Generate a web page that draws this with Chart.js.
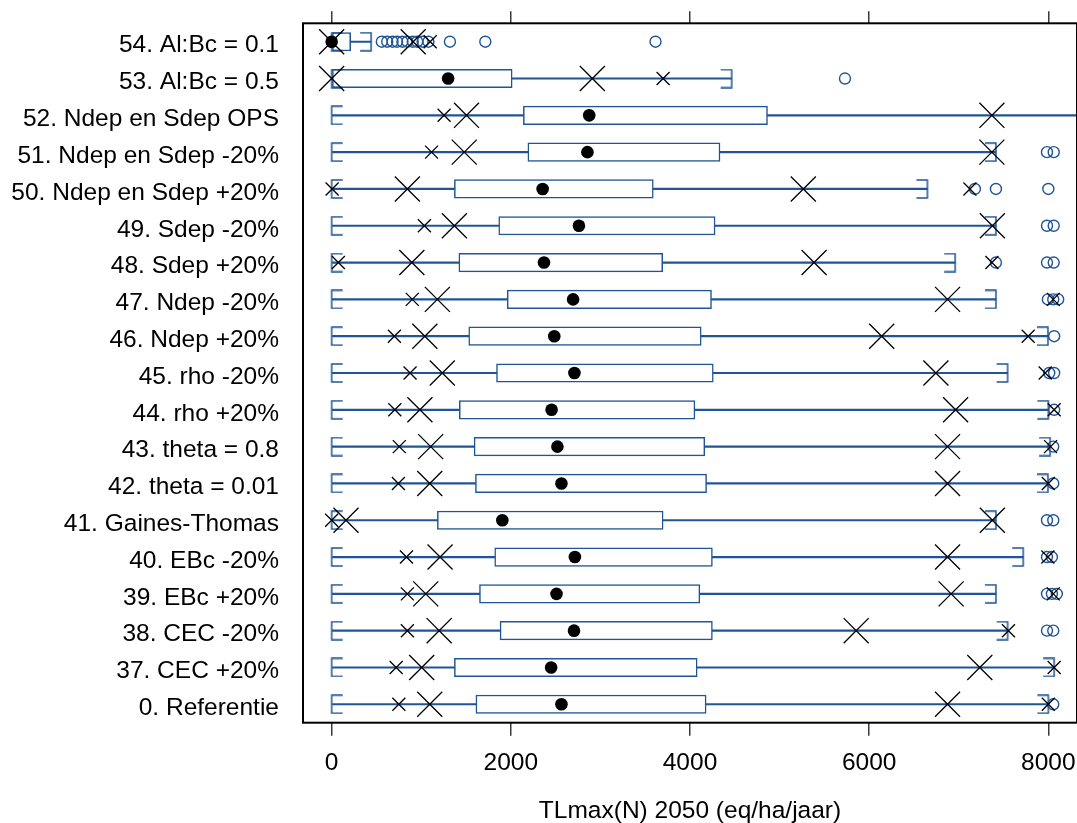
<!DOCTYPE html>
<html lang="nl">
<head>
<meta charset="UTF-8">
<title>TLmax(N) 2050</title>
<script src="https://cdn.jsdelivr.net/npm/chart.js"></script>
<style>
  html, body { margin: 0; padding: 0; background: #fff; overflow: hidden; }
  #wrap { width: 1077px; height: 823px; }
  canvas { display: block; }
</style>
</head>
<body>
<div id="wrap"><canvas id="grafiek"></canvas></div>
<script>
// Scenario's, van boven naar onder
const categories = ['54. Al:Bc = 0.1', '53. Al:Bc = 0.5', '52. Ndep en Sdep OPS', '51. Ndep en Sdep -20%',
    '50. Ndep en Sdep +20%', '49. Sdep -20%', '48. Sdep +20%', '47. Ndep -20%', '46. Ndep +20%',
    '45. rho -20%', '44. rho +20%', '43. theta = 0.8', '42. theta = 0.01', '41. Gaines-Thomas',
    '40. EBc -20%', '39. EBc +20%', '38. CEC -20%', '37. CEC +20%', '0. Referentie'];

// Boxplot waarden (eq/ha/jaar)
const lowCap  = [0, 0, 0, 0, 0, 0, 0, 0, 0, 0, 0, 0, 0, 0, 0, 0, 0, 0, 0];
const q1      = [0, 0, 2140, 2190, 1370, 1865, 1420, 1960, 1530, 1840, 1425, 1590, 1605, 1180, 1820, 1650, 1880, 1370, 1610];
const median  = [0, 1300, 2875, 2855, 2355, 2760, 2370, 2695, 2485, 2710, 2455, 2520, 2565, 1905, 2715, 2510, 2705, 2450, 2565];
const q3      = [212, 2015, 4865, 4335, 3590, 4280, 3695, 4240, 4125, 4260, 4055, 4165, 4185, 3700, 4250, 4110, 4250, 4080, 4180];
const highCap = [440, 4465, 8600, 7415, 6650, 7415, 6960, 7415, 7995, 7545, 8000, 8020, 7995, 7415, 7720, 7415, 7545, 8065, 8000];

// Grote kruisen, kleine kruisen en uitschieters per scenario
const bigX = [[0, 910], [0, 2910], [1505, 7370], [1480, 7370], [845, 5265], [1370, 7375], [895, 5385],
    [1180, 6875], [1040, 6140], [1235, 6745], [985, 6965], [1105, 6875], [1095, 6875], [160, 7375],
    [1210, 6875], [1050, 6915], [1200, 5855], [1005, 7235], [1095, 6875]];
const smallX = [[1100], [3700], [1255], [1115], [5, 7125], [1035], [75, 7370], [900, 8055], [700, 7775],
    [875, 7965], [705, 8065], [755, 8025], [745, 8000], [0], [835, 7995], [845, 8055], [845, 7555],
    [720, 8065], [750, 8000]];
const outliers = [
    [560, 620, 680, 730, 790, 845, 905, 955, 1015, 1080, 1320, 1715, 3615],
    [5730], [], [7985, 8060], [7180, 7415, 8000], [7985, 8060], [7415, 7985, 8060],
    [7995, 8055, 8110], [8065], [8010, 8065], [8065], [8055], [8055], [7985, 8055],
    [7985, 8040], [7985, 8040, 8095], [7985, 8055], [], [8055]];

const xTicks = [0, 2000, 4000, 6000, 8000];
const xMin = -320, xMax = 8320;

const blauw = '#1f5596';
const lijnGrijs = '#3a3a3a';

Chart.defaults.font.family = "'Liberation Sans', Arial, sans-serif";
Chart.defaults.font.size = 24.5;
Chart.defaults.color = '#000';

// uiteinde van de snorharen: [ en ]
function maakKap(links) {
    const c = document.createElement('canvas');
    c.width = 24; c.height = 20;
    const g = c.getContext('2d');
    g.strokeStyle = blauw;
    g.lineWidth = 1.5;
    g.beginPath();
    const eind = links ? 23 : 1;
    g.moveTo(eind, 1); g.lineTo(12, 1); g.lineTo(12, 19); g.lineTo(eind, 19);
    g.stroke();
    return c;
}

function punten(lijsten) {
    const out = [];
    lijsten.forEach((vals, i) => vals.forEach(v => out.push({x: v, y: categories[i]})));
    return out;
}
const enkel = arr => arr.map((v, i) => ({x: v, y: categories[i]}));

const vasteTicks = s => { s.ticks = xTicks.map(v => ({value: v})); };
const geenMarge = s => { s.paddingLeft = 0; s.paddingRight = 0; s.paddingTop = 0; s.paddingBottom = 0; };

// kader rond het plotvlak
const kader = {
    id: 'kader',
    afterDraw(chart) {
        const {ctx, chartArea: a} = chart;
        ctx.save();
        ctx.strokeStyle = '#000';
        ctx.lineWidth = 2;
        ctx.strokeRect(a.left, a.top, a.right - a.left, a.bottom - a.top);
        ctx.restore();
    }
};

new Chart(document.getElementById('grafiek'), {
    type: 'bar',
    data: {
        labels: categories,
        datasets: [
            {type: 'scatter', label: 'grote x', data: punten(bigX), pointStyle: 'crossRot', pointRadius: 17.7,
                pointBorderColor: '#000', pointBorderWidth: 1.3, order: 0},
            {type: 'scatter', label: 'kleine x', data: punten(smallX), pointStyle: 'crossRot', pointRadius: 9.2,
                pointBorderColor: '#000', pointBorderWidth: 1.3, order: 1},
            {type: 'scatter', label: 'mediaan', data: enkel(median), pointStyle: 'circle', pointRadius: 6.3,
                pointBackgroundColor: '#000', pointBorderWidth: 0, order: 2},
            {type: 'scatter', label: 'uitschieters', data: punten(outliers), pointStyle: 'circle', pointRadius: 5.5,
                pointBorderColor: blauw, pointBackgroundColor: 'rgba(0,0,0,0)', pointBorderWidth: 1.4, order: 3},
            {type: 'scatter', label: 'kap onder', data: enkel(lowCap), pointStyle: maakKap(true), pointRadius: 10, order: 4},
            {type: 'scatter', label: 'kap boven', data: enkel(highCap), pointStyle: maakKap(false), pointRadius: 10, order: 4},
            {label: 'box', data: q1.map((v, i) => [v, q3[i]]), backgroundColor: '#fff', borderColor: blauw,
                borderWidth: 1.5, borderSkipped: false, barThickness: 18.5, grouped: false, order: 5},
            {label: 'snor', data: lowCap.map((v, i) => [v, highCap[i]]), backgroundColor: blauw,
                borderWidth: 0, barThickness: 1.5, grouped: false, order: 6}
        ]
    },
    options: {
        indexAxis: 'y',
        responsive: true,
        maintainAspectRatio: false,
        animation: false,
        events: [],
        layout: {autoPadding: false, padding: {top: 11, left: 0, right: 0, bottom: 0}},
        plugins: {legend: {display: false}, tooltip: {enabled: false}},
        scales: {
            x: {
                type: 'linear', position: 'bottom', min: xMin, max: xMax,
                afterBuildTicks: vasteTicks,
                grid: {drawOnChartArea: false, drawTicks: true, tickLength: 13, color: lijnGrijs, lineWidth: 1.5},
                border: {display: false},
                ticks: {padding: 13, maxRotation: 0, callback: v => String(v)},
                title: {display: true, text: 'TLmax(N) 2050 (eq/ha/jaar)', padding: 0, font: {lineHeight: 1}},
                afterFit: s => { s.height = 100.3; geenMarge(s); }
            },
            x2: {
                type: 'linear', position: 'top', min: xMin, max: xMax,
                afterBuildTicks: vasteTicks,
                grid: {drawOnChartArea: false, drawTicks: true, tickLength: 12, color: lijnGrijs, lineWidth: 1.5},
                border: {display: false},
                ticks: {display: false},
                afterFit: s => { s.height = 12.3; geenMarge(s); }
            },
            y: {
                type: 'category', offset: true,
                grid: {display: false, drawTicks: false},
                border: {display: false},
                ticks: {padding: 24, autoSkip: false, labelOffset: 4},
                afterFit: s => { s.width = 303; geenMarge(s); }
            }
        }
    },
    plugins: [kader]
});
</script>
</body>
</html>
